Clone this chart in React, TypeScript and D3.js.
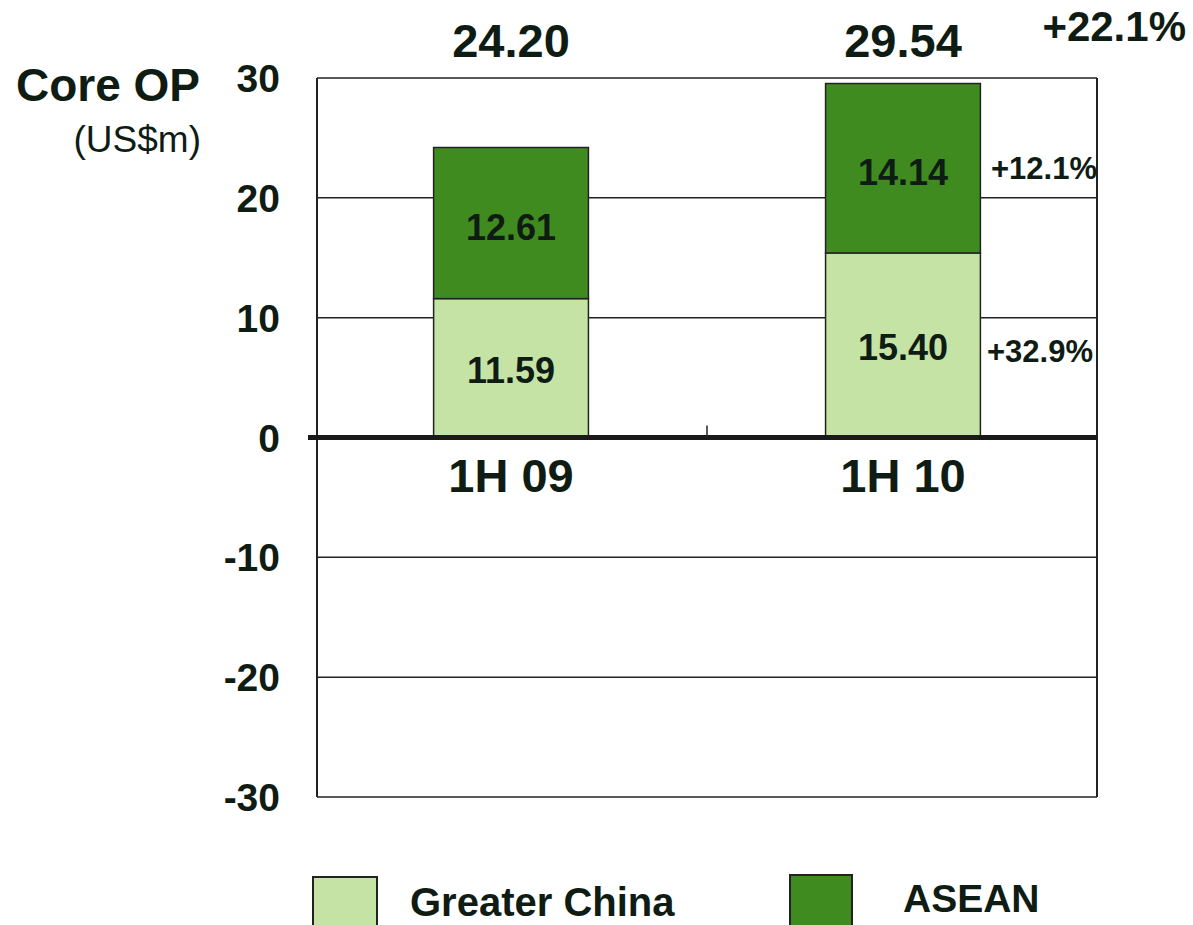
import React from "react";
import * as d3 from "d3";

const periods = ["1H 09", "1H 10"];
const greaterChina = [11.59, 15.4];
const asean = [12.61, 14.14];
const totals = [24.2, 29.54];
const yTicks = [30, 20, 10, 0, -10, -20, -30];
const seriesNames = ["Greater China", "ASEAN"];
const growthLabels = { total: "+22.1%", asean: "+12.1%", greaterChina: "+32.9%" };

const W = 1193;
const H = 925;
const LIGHT = "#c5e3a5";
const DARK = "#3f8b1f";
const INK = "#0f1c14";
const FONT = "'Liberation Sans', Arial, sans-serif";

export default function App() {
  const x = d3.scaleBand<string>().domain(periods).range([317, 1097]).paddingInner(0.605).paddingOuter(0.2975);
  const y = d3.scaleLinear().domain([-30, 30]).range([797, 78]);
  const stacked = periods.map((p, i) => ({
    p,
    gc: [0, greaterChina[i]],
    as: [greaterChina[i], greaterChina[i] + asean[i]],
  }));
  const bw = x.bandwidth();
  const cx = (p: string) => (x(p) as number) + bw / 2;
  const mid = (a: number, b: number) => (y(a) + y(b)) / 2;

  return (
    <svg width={W} height={H} style={{ position: "absolute", left: 0, top: 0, background: "#fff" }}>
      <g fontFamily={FONT} fill={INK}>
        {/* title */}
        <text x={16} y={101} fontSize={46} fontWeight="bold">Core OP</text>
        <text x={201} y={152} fontSize={37} textAnchor="end">(US$m)</text>

        {/* gridlines and frame */}
        {yTicks.filter((t) => t !== 0).map((t) => (
          <line key={t} x1={317} x2={1097} y1={y(t)} y2={y(t)} stroke="#222" strokeWidth={1.5} />
        ))}
        <line x1={317} x2={317} y1={78} y2={797} stroke="#222" strokeWidth={2} />
        <line x1={1097} x2={1097} y1={78} y2={797} stroke="#222" strokeWidth={2} />

        {/* y tick labels */}
        {yTicks.map((t) => (
          <text key={t} x={280} y={y(t)} dy="0.36em" fontSize={39} fontWeight="bold" textAnchor="end">
            {t}
          </text>
        ))}

        {/* stacked bars */}
        {stacked.map((d) => (
          <g key={d.p}>
            <rect x={x(d.p)} y={y(d.gc[1])} width={bw} height={y(d.gc[0]) - y(d.gc[1])} fill={LIGHT} stroke="#222" strokeWidth={1.5} />
            <rect x={x(d.p)} y={y(d.as[1])} width={bw} height={y(d.as[0]) - y(d.as[1])} fill={DARK} stroke="#222" strokeWidth={1.5} />
          </g>
        ))}

        {/* zero axis */}
        <line x1={308} x2={1097} y1={y(0)} y2={y(0)} stroke="#1a1a1a" strokeWidth={5} />
        <line x1={707} x2={707} y1={y(0) - 12} y2={y(0)} stroke="#222" strokeWidth={1.5} />

        {/* value, total and category labels */}
        {stacked.map((d, i) => (
          <g key={d.p + "l"} fontWeight="bold" textAnchor="middle">
            <text x={cx(d.p)} y={mid(d.gc[0], d.gc[1]) + 2} dy="0.36em" fontSize={36}>
              {greaterChina[i].toFixed(2)}
            </text>
            <text x={cx(d.p)} y={mid(d.as[0], d.as[1]) + 4} dy="0.36em" fontSize={36}>
              {asean[i].toFixed(2)}
            </text>
            <text x={cx(d.p)} y={57} fontSize={47}>
              {totals[i].toFixed(2)}
            </text>
            <text x={cx(d.p)} y={492} fontSize={47}>
              {d.p}
            </text>
          </g>
        ))}

        {/* growth labels */}
        <text x={1186} y={41} fontSize={42} fontWeight="bold" textAnchor="end">{growthLabels.total}</text>
        <text x={991} y={168} dy="0.36em" fontSize={31} fontWeight="bold">{growthLabels.asean}</text>
        <text x={987} y={351} dy="0.36em" fontSize={31} fontWeight="bold">{growthLabels.greaterChina}</text>

        {/* legend */}
        <rect x={313} y={877} width={64} height={60} fill={LIGHT} stroke="#222" strokeWidth={2} />
        <text x={410} y={916} fontSize={40} fontWeight="bold">{seriesNames[0]}</text>
        <rect x={790} y={875} width={62} height={60} fill={DARK} stroke="#222" strokeWidth={2} />
        <text x={903} y={912} fontSize={39} fontWeight="bold">{seriesNames[1]}</text>
      </g>
    </svg>
  );
}
